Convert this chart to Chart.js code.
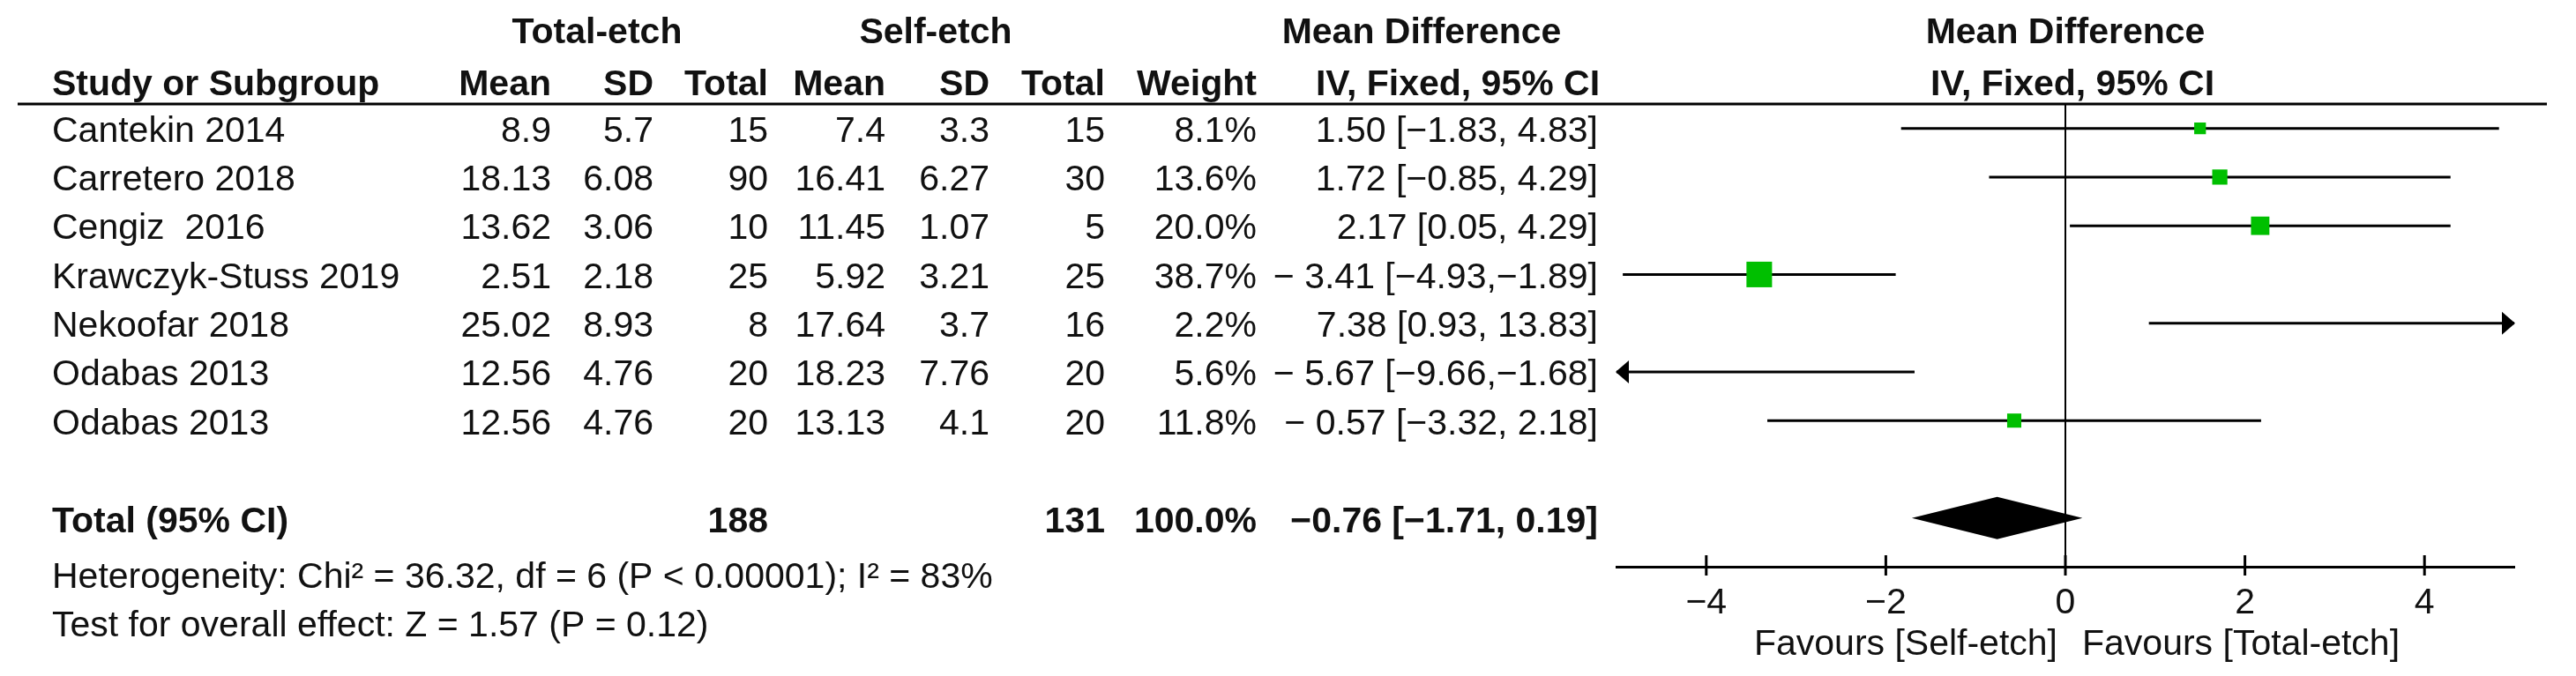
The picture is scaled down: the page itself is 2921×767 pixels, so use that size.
<!DOCTYPE html>
<html lang="en">
<head>
<meta charset="UTF-8" />
<title>Total-etch vs Self-etch forest plot</title>
<script src="https://cdn.jsdelivr.net/npm/chart.js"></script>
<style>
  * { margin: 0; padding: 0; box-sizing: border-box; }
  body { background: #fff; width: 2921px; height: 767px; overflow: hidden; }
  #wrap { position: relative; width: 2921px; height: 767px; }
</style>
</head>
<body>
<div id="wrap"><canvas id="forest"></canvas></div>
<script>
  // study rows
  const studies = ["Cantekin 2014", "Carretero 2018", "Cengiz  2016", "Krawczyk-Stuss 2019", "Nekoofar 2018", "Odabas 2013", "Odabas 2013"];
  const teMean = ["8.9", "18.13", "13.62", "2.51", "25.02", "12.56", "12.56"];
  const teSD = ["5.7", "6.08", "3.06", "2.18", "8.93", "4.76", "4.76"];
  const teTotal = [15, 90, 10, 25, 8, 20, 20];
  const seMean = ["7.4", "16.41", "11.45", "5.92", "17.64", "18.23", "13.13"];
  const seSD = ["3.3", "6.27", "1.07", "3.21", "3.7", "7.76", "4.1"];
  const seTotal = [15, 30, 5, 25, 16, 20, 20];
  const weights = [8.1, 13.6, 20.0, 38.7, 2.2, 5.6, 11.8];
  const md = [1.50, 1.72, 2.17, -3.41, 7.38, -5.67, -0.57];
  const ciLow = [-1.83, -0.85, 0.05, -4.93, 0.93, -9.66, -3.32];
  const ciHigh = [4.83, 4.29, 4.29, -1.89, 13.83, -1.68, 2.18];
  const ciLabels = ["1.50 [\u22121.83, 4.83]", "1.72 [\u22120.85, 4.29]", "2.17 [0.05, 4.29]",
    "\u2212 3.41 [\u22124.93,\u22121.89]", "7.38 [0.93, 13.83]", "\u2212 5.67 [\u22129.66,\u22121.68]", "\u2212 0.57 [\u22123.32, 2.18]"];

  // pooled result
  const totalRow = 8;
  const totalN = [188, 131];
  const totalWeight = "100.0%";
  const totalMD = -0.76, totalLow = -1.71, totalHigh = 0.19;
  const totalLabel = "\u22120.76 [\u22121.71, 0.19]";
  const heterogeneity = "Heterogeneity: Chi\u00b2 = 36.32, df = 6 (P < 0.00001); I\u00b2 = 83%";
  const overall = "Test for overall effect: Z = 1.57 (P = 0.12)";

  // axis
  const xTicks = [-4, -2, 0, 2, 4];
  const favoursLeft = "Favours [Self-etch]";
  const favoursRight = "Favours [Total-etch]";

  const FONT = "'Liberation Sans', Arial, Helvetica, sans-serif";
  const INK = "#111";
  const GREEN = "#00bf00";

  const ciSegments = [];
  studies.forEach((s, i) => {
    ciSegments.push({ x: ciLow[i], y: i }, { x: ciHigh[i], y: i }, { x: ciHigh[i], y: null });
  });
  const points = md.map((m, i) => ({ x: m, y: i }));
  const boxRadius = weights.map(w => 3.3 * Math.sqrt(w));

  function txt(ctx, s, x, y, align, bold) {
    ctx.font = (bold ? "bold " : "") + "41px " + FONT;
    ctx.textAlign = align;
    ctx.textBaseline = "middle";
    ctx.fillStyle = INK;
    ctx.fillText(s, x, y);
  }

  const forestPlugin = {
    id: "forestTable",
    afterDraw(chart) {
      const ctx = chart.ctx;
      const xs = chart.scales.x, ys = chart.scales.y;
      const area = chart.chartArea;
      ctx.save();

      // header
      txt(ctx, "Total-etch", 677, 38, "center", true);
      txt(ctx, "Self-etch", 1061, 38, "center", true);
      txt(ctx, "Mean Difference", 1612, 38, "center", true);
      txt(ctx, "Mean Difference", xs.getPixelForValue(0), 38, "center", true);
      const hy = 97;
      txt(ctx, "Study or Subgroup", 59, hy, "left", true);
      txt(ctx, "Mean", 625, hy, "right", true);
      txt(ctx, "SD", 741, hy, "right", true);
      txt(ctx, "Total", 871, hy, "right", true);
      txt(ctx, "Mean", 1004, hy, "right", true);
      txt(ctx, "SD", 1122, hy, "right", true);
      txt(ctx, "Total", 1253, hy, "right", true);
      txt(ctx, "Weight", 1425, hy, "right", true);
      txt(ctx, "IV, Fixed, 95% CI", 1653, hy, "center", true);
      txt(ctx, "IV, Fixed, 95% CI", xs.getPixelForValue(0) + 8, hy, "center", true);

      // rule under header
      ctx.strokeStyle = "#000";
      ctx.lineWidth = 3;
      ctx.beginPath();
      ctx.moveTo(20, area.top);
      ctx.lineTo(2888, area.top);
      ctx.stroke();

      // study rows
      studies.forEach((s, i) => {
        const y = ys.getPixelForValue(i) + 4;
        txt(ctx, s, 59, y, "left");
        txt(ctx, teMean[i], 625, y, "right");
        txt(ctx, teSD[i], 741, y, "right");
        txt(ctx, String(teTotal[i]), 871, y, "right");
        txt(ctx, seMean[i], 1004, y, "right");
        txt(ctx, seSD[i], 1122, y, "right");
        txt(ctx, String(seTotal[i]), 1253, y, "right");
        txt(ctx, weights[i].toFixed(1) + "%", 1425, y, "right");
        txt(ctx, ciLabels[i], 1812, y, "right");
      });

      // arrows for intervals beyond the axis
      ctx.fillStyle = "#000";
      studies.forEach((s, i) => {
        const y = ys.getPixelForValue(i);
        if (ciHigh[i] > xs.max) {
          const tip = xs.getPixelForValue(xs.max);
          ctx.beginPath();
          ctx.moveTo(tip + 1, y);
          ctx.lineTo(tip - 14, y - 13);
          ctx.lineTo(tip - 14, y + 13);
          ctx.closePath();
          ctx.fill();
        }
        if (ciLow[i] < xs.min) {
          const tip = xs.getPixelForValue(xs.min);
          ctx.beginPath();
          ctx.moveTo(tip - 1, y);
          ctx.lineTo(tip + 14, y - 13);
          ctx.lineTo(tip + 14, y + 13);
          ctx.closePath();
          ctx.fill();
        }
      });

      // total row
      const ty = ys.getPixelForValue(totalRow);
      txt(ctx, "Total (95% CI)", 59, ty + 5, "left", true);
      txt(ctx, String(totalN[0]), 871, ty + 5, "right", true);
      txt(ctx, String(totalN[1]), 1253, ty + 5, "right", true);
      txt(ctx, totalWeight, 1425, ty + 5, "right", true);
      txt(ctx, totalLabel, 1812, ty + 5, "right", true);

      // pooled diamond
      ctx.fillStyle = "#000";
      ctx.beginPath();
      ctx.moveTo(xs.getPixelForValue(totalLow), ty);
      ctx.lineTo(xs.getPixelForValue(totalMD), ty - 24);
      ctx.lineTo(xs.getPixelForValue(totalHigh), ty);
      ctx.lineTo(xs.getPixelForValue(totalMD), ty + 24);
      ctx.closePath();
      ctx.fill();

      // footer
      txt(ctx, heterogeneity, 59, ty + 68, "left");
      txt(ctx, overall, 59, ty + 123, "left");

      // tick marks crossing the axis
      ctx.strokeStyle = "#000";
      ctx.lineWidth = 3;
      xTicks.forEach(v => {
        const px = xs.getPixelForValue(v);
        ctx.beginPath();
        ctx.moveTo(px, area.bottom - 13);
        ctx.lineTo(px, area.bottom + 10);
        ctx.stroke();
      });

      // favours labels
      const zx = xs.getPixelForValue(0);
      txt(ctx, favoursLeft, zx - 9, 732, "right");
      txt(ctx, favoursRight, zx + 19, 732, "left");
      ctx.restore();
    }
  };

  new Chart(document.getElementById("forest"), {
    type: "scatter",
    data: {
      datasets: [
        { type: "line", data: ciSegments, borderColor: "#000", borderWidth: 3, pointRadius: 0, spanGaps: false, order: 2 },
        { data: points, pointStyle: "rect", pointRadius: boxRadius, backgroundColor: GREEN, borderWidth: 0, order: 1 }
      ]
    },
    options: {
      responsive: true,
      maintainAspectRatio: false,
      animation: false,
      events: [],
      layout: { padding: { left: 1833, right: 70, top: 118, bottom: 0 } },
      plugins: { legend: { display: false }, tooltip: { enabled: false } },
      scales: {
        x: {
          type: "linear",
          min: -5,
          max: 5,
          afterBuildTicks: s => { s.ticks = xTicks.map(v => ({ value: v })); },
          afterFit: s => { s.height = 124; },
          grid: {
            drawTicks: false,
            lineWidth: 2,
            color: c => (c.tick && c.tick.value === 0 ? "#000" : "rgba(0,0,0,0)")
          },
          border: { display: true, color: "#000", width: 3 },
          ticks: {
            padding: 17,
            color: INK,
            font: { family: FONT, size: 41 },
            callback: v => (v < 0 ? "\u2212" + Math.abs(v) : String(v))
          }
        },
        y: { type: "linear", reverse: true, min: -0.5, max: 9, display: false }
      }
    },
    plugins: [forestPlugin]
  });
</script>
</body>
</html>
